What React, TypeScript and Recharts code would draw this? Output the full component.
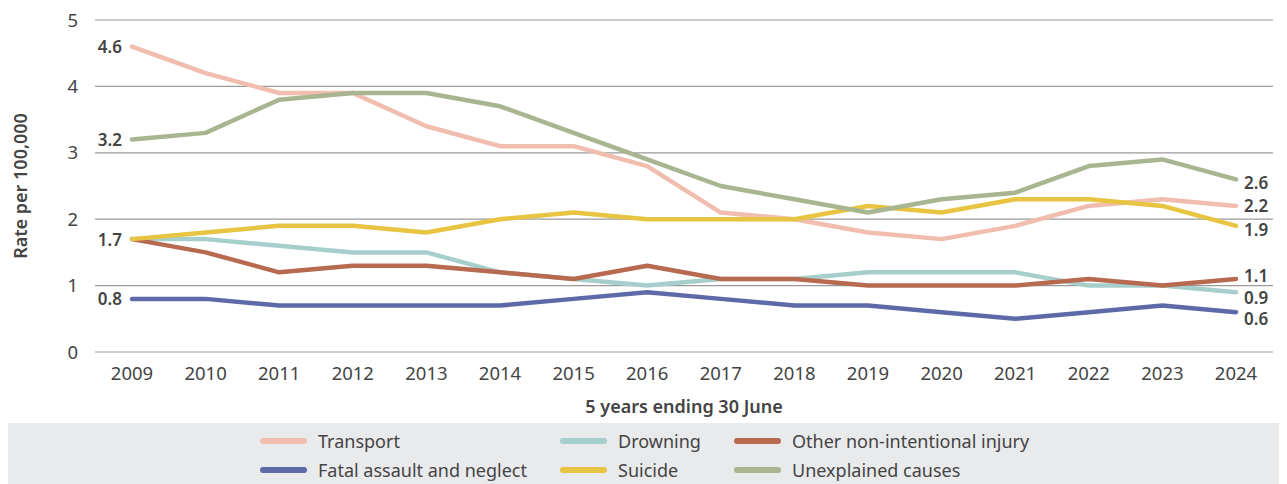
import React from "react";
import { LineChart, Line, XAxis, YAxis, CartesianGrid, LabelList } from "recharts";

const years = ["2009","2010","2011","2012","2013","2014","2015","2016","2017","2018","2019","2020","2021","2022","2023","2024"];
const transport = [4.6,4.2,3.9,3.9,3.4,3.1,3.1,2.8,2.1,2.0,1.8,1.7,1.9,2.2,2.3,2.2];
const drowning = [1.7,1.7,1.6,1.5,1.5,1.2,1.1,1.0,1.1,1.1,1.2,1.2,1.2,1.0,1.0,0.9];
const otherInjury = [1.7,1.5,1.2,1.3,1.3,1.2,1.1,1.3,1.1,1.1,1.0,1.0,1.0,1.1,1.0,1.1];
const fatalAssault = [0.8,0.8,0.7,0.7,0.7,0.7,0.8,0.9,0.8,0.7,0.7,0.6,0.5,0.6,0.7,0.6];
const suicide = [1.7,1.8,1.9,1.9,1.8,2.0,2.1,2.0,2.0,2.0,2.2,2.1,2.3,2.3,2.2,1.9];
const unexplained = [3.2,3.3,3.8,3.9,3.9,3.7,3.3,2.9,2.5,2.3,2.1,2.3,2.4,2.8,2.9,2.6];
const yTicks = [0,1,2,3,4,5];

const series = [
  { key: "transport", name: "Transport", values: transport, color: "#F0BDAF", startLabel: true, endDy: 0 },
  { key: "drowning", name: "Drowning", values: drowning, color: "#A6CFCB", startLabel: false, endDy: 5 },
  { key: "other", name: "Other non-intentional injury", values: otherInjury, color: "#B86A51", startLabel: false, endDy: -3 },
  { key: "fatal", name: "Fatal assault and neglect", values: fatalAssault, color: "#5E6AA8", startLabel: true, endDy: 6 },
  { key: "suicide", name: "Suicide", values: suicide, color: "#E8C443", startLabel: true, endDy: 4 },
  { key: "unexplained", name: "Unexplained causes", values: unexplained, color: "#A9B591", startLabel: true, endDy: 3 },
];

const data = years.map((y, i) => {
  const row: Record<string, any> = { year: y };
  series.forEach((s) => (row[s.key] = s.values[i]));
  return row;
});

const FONT = "'Noto Sans', sans-serif";
const TXT = "#444";

const makeLabel = (s: typeof series[number]) => (props: any) => {
  const { x, y, value, index } = props;
  const last = years.length - 1;
  if (index === 0 && s.startLabel) {
    return (
      <text x={x - 10} y={y} textAnchor="end" dominantBaseline="central" fontSize={17} fontWeight={600} fill={TXT} fontFamily={FONT}>
        {value.toFixed(1)}
      </text>
    );
  }
  if (index === last) {
    return (
      <text x={x + 8} y={y + s.endDy} textAnchor="start" dominantBaseline="central" fontSize={17} fontWeight={600} fill={TXT} fontFamily={FONT}>
        {value.toFixed(1)}
      </text>
    );
  }
  return null;
};

const legendLayout = [
  ["transport", "drowning", "other"],
  ["fatal", "suicide", "unexplained"],
];
const colX = [252, 552, 726];

export default function App() {
  return (
    <div style={{ position: "relative", width: 1279, height: 476, fontFamily: FONT }}>
      <LineChart width={1279} height={415} data={data} margin={{ top: 12, right: 14, bottom: 0, left: 0 }}>
        <CartesianGrid vertical={false} stroke="#9a9a9a" strokeWidth={1.2} />
        <XAxis
          dataKey="year"
          axisLine={false}
          tickLine={false}
          tickSize={0}
          tickMargin={15}
          height={71}
          padding={{ left: 37, right: 37 }}
          tick={{ fill: TXT, fontSize: 18.5, fontFamily: FONT }}
          label={{
            content: (p: any) => {
              const vb = p.viewBox;
              return (
                <text x={vb.x + vb.width / 2} y={vb.y + 54} textAnchor="middle" dominantBaseline="central" fontSize={18} fontWeight={600} fill={TXT} fontFamily={FONT}>
                  5 years ending 30 June
                </text>
              );
            },
          }}
        />
        <YAxis
          domain={[0, 5]}
          ticks={yTicks}
          width={87}
          axisLine={false}
          tickLine={false}
          tickSize={0}
          tickMargin={17}
          tick={{ fill: TXT, fontSize: 18.5, fontFamily: FONT }}
          label={{
            content: (p: any) => {
              const vb = p.viewBox;
              const cy = vb.y + vb.height / 2;
              return (
                <text x={12} y={cy} transform={`rotate(-90, 12, ${cy})`} textAnchor="middle" dominantBaseline="central" fontSize={18} fontWeight={600} fill={TXT} fontFamily={FONT}>
                  Rate per 100,000
                </text>
              );
            },
          }}
        />
        {series.map((s) => (
          <Line
            key={s.key}
            dataKey={s.key}
            name={s.name}
            stroke={s.color}
            strokeWidth={4.5}
            strokeLinecap="round"
            strokeLinejoin="round"
            dot={false}
            activeDot={false}
            isAnimationActive={false}
          >
            <LabelList dataKey={s.key} content={makeLabel(s)} />
          </Line>
        ))}
      </LineChart>
      <div style={{ position: "absolute", left: 0, top: 415, width: 1279, height: 61, background: "#E9EAEB" }}>
        {legendLayout.map((row, r) =>
          row.map((k, c) => {
            const s = series.find((q) => q.key === k)!;
            return (
              <div key={k} style={{ position: "absolute", left: colX[c], top: 6 + r * 29, height: 24, display: "flex", alignItems: "center" }}>
                <div style={{ width: 47, height: 6, borderRadius: 3, background: s.color, marginRight: 11 }} />
                <span style={{ fontSize: 18, color: TXT, whiteSpace: "nowrap" }}>{s.name}</span>
              </div>
            );
          })
        )}
      </div>
    </div>
  );
}
